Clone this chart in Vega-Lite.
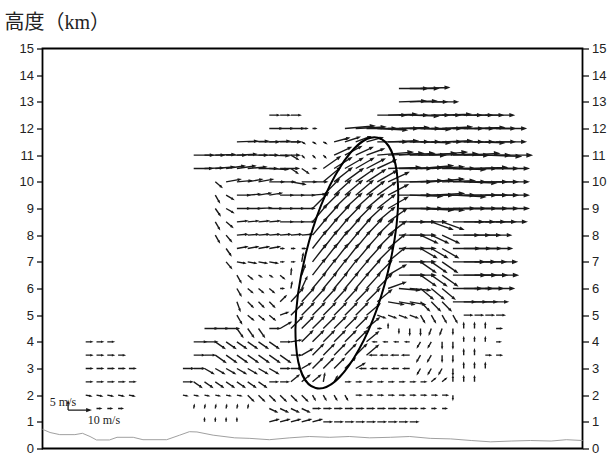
{
"$schema": "https://vega.github.io/schema/vega-lite/v6.json",
"width": 540, "height": 400,
"autosize": {"type": "none"},
"padding": {"left": 42.5, "top": 48.5, "right": 30.5, "bottom": 7.5},
"background": "white",
"title": {"text": "高度（km）", "anchor": "start", "frame": "group", "dx": -38, "offset": -10, "baseline": "bottom", "fontSize": 20, "fontWeight": "normal", "font": "Liberation Serif, Noto Sans CJK JP", "color": "#222"},
"config": {
  "view": {"stroke": "#000", "strokeWidth": 1.8},
  "axisY": {"tickSize": 6, "tickColor": "#000", "tickWidth": 1.2, "domain": false, "grid": false, "labelFont": "Liberation Sans", "labelFontSize": 13, "labelColor": "#222", "labelPadding": 3, "labelOverlap": false, "title": null}
},
"datasets": {
  "v": [
{"x":33,"z":13.5,"d":0,"s":12.7},{"x":34,"z":13.5,"d":0,"s":12.7},{"x":35,"z":13.5,"d":2,"s":12.7},
{"x":33,"z":13,"d":2,"s":11.8},{"x":34,"z":13,"d":2,"s":11.8},{"x":35,"z":13,"d":0,"s":11.8},{"x":36,"z":13,"d":0,"s":11.8},
{"x":21,"z":12.5,"d":0,"s":4.1},{"x":22,"z":12.5,"d":0,"s":4.1},{"x":23,"z":12.5,"d":0,"s":4.1},
{"x":31,"z":12.5,"d":0,"s":12.7},{"x":32,"z":12.5,"d":2,"s":12.7},{"x":33,"z":12.5,"d":0,"s":12.7},{"x":34,"z":12.5,"d":-2,"s":12.7},{"x":35,"z":12.5,"d":0,"s":12.7},{"x":36,"z":12.5,"d":0,"s":12.7},{"x":37,"z":12.5,"d":2,"s":12.7},{"x":38,"z":12.5,"d":0,"s":12.7},{"x":39,"z":12.5,"d":0,"s":12.7},{"x":40,"z":12.5,"d":0,"s":12.7},{"x":41,"z":12.5,"d":0,"s":12.7},
{"x":21,"z":12,"d":0,"s":5.5},{"x":22,"z":12,"d":0,"s":5.5},{"x":23,"z":12,"d":0,"s":5.5},{"x":24,"z":12,"d":0,"s":2.3},{"x":25,"z":12,"d":0,"s":1.4},
{"x":28,"z":12,"d":5,"s":13.2},{"x":29,"z":12,"d":3,"s":13.2},{"x":30,"z":12,"d":0,"s":13.2},{"x":31,"z":12,"d":-3,"s":13.2},{"x":32,"z":12,"d":0,"s":13.2},{"x":33,"z":12,"d":2,"s":13.2},{"x":34,"z":12,"d":0,"s":13.2},{"x":35,"z":12,"d":-2,"s":13.2},{"x":36,"z":12,"d":0,"s":13.2},{"x":37,"z":12,"d":3,"s":13.2},{"x":38,"z":12,"d":0,"s":13.2},{"x":39,"z":12,"d":0,"s":13.2},{"x":40,"z":12,"d":2,"s":13.2},{"x":41,"z":12,"d":0,"s":13.2},{"x":42,"z":12,"d":0,"s":13.2},
{"x":18,"z":11.5,"d":2,"s":9.1},{"x":19,"z":11.5,"d":2,"s":9.1},{"x":20,"z":11.5,"d":0,"s":9.1},{"x":21,"z":11.5,"d":2,"s":9.1},{"x":22,"z":11.5,"d":0,"s":9.1},{"x":23,"z":11.5,"d":0,"s":4.1},{"x":24,"z":11.5,"d":-30,"s":1.4},{"x":25,"z":11.5,"d":-30,"s":1.4},{"x":26,"z":11.5,"d":-30,"s":1.4},{"x":27,"z":11.5,"d":15,"s":6.8},{"x":28,"z":11.5,"d":18,"s":6.8},{"x":29,"z":11.5,"d":20,"s":6.8},{"x":30,"z":11.5,"d":15,"s":7.3},
{"x":31,"z":11.5,"d":0,"s":13.2},{"x":32,"z":11.5,"d":2,"s":13.2},{"x":33,"z":11.5,"d":0,"s":13.2},{"x":34,"z":11.5,"d":0,"s":13.2},{"x":35,"z":11.5,"d":-2,"s":13.2},{"x":36,"z":11.5,"d":0,"s":13.2},{"x":37,"z":11.5,"d":2,"s":13.2},{"x":38,"z":11.5,"d":0,"s":13.2},{"x":39,"z":11.5,"d":0,"s":13.2},{"x":40,"z":11.5,"d":-2,"s":13.2},{"x":41,"z":11.5,"d":0,"s":13.2},{"x":42,"z":11.5,"d":0,"s":13.2},
{"x":14,"z":11,"d":0,"s":8.6},{"x":15,"z":11,"d":0,"s":8.6},{"x":16,"z":11,"d":2,"s":8.6},{"x":17,"z":11,"d":0,"s":8.6},{"x":18,"z":11,"d":3,"s":8.6},{"x":19,"z":11,"d":0,"s":8.6},{"x":20,"z":11,"d":0,"s":8.6},{"x":21,"z":11,"d":-2,"s":8.6},{"x":22,"z":11,"d":0,"s":8.6},{"x":23,"z":11,"d":-30,"s":3.6},{"x":24,"z":11,"d":-45,"s":1.4},{"x":25,"z":11,"d":-45,"s":1.4},{"x":26,"z":11,"d":-45,"s":1.4},{"x":27,"z":11,"d":25,"s":8.2},{"x":28,"z":11,"d":28,"s":8.2},{"x":29,"z":11,"d":25,"s":8.2},{"x":30,"z":11,"d":20,"s":8.2},
{"x":31,"z":11,"d":5,"s":15.9},{"x":32,"z":11,"d":3,"s":15.9},{"x":33,"z":11,"d":3,"s":15.9},{"x":34,"z":11,"d":0,"s":15.9},{"x":35,"z":11,"d":3,"s":15.9},{"x":36,"z":11,"d":5,"s":15.9},{"x":37,"z":11,"d":2,"s":15.9},{"x":38,"z":11,"d":0,"s":15.9},{"x":39,"z":11,"d":3,"s":15.9},{"x":40,"z":11,"d":0,"s":15.9},{"x":41,"z":11,"d":-2,"s":15.9},{"x":42,"z":11,"d":0,"s":15.9},
{"x":14,"z":10.5,"d":0,"s":8.2},{"x":15,"z":10.5,"d":2,"s":8.2},{"x":16,"z":10.5,"d":5,"s":8.2},{"x":17,"z":10.5,"d":8,"s":8.2},{"x":18,"z":10.5,"d":8,"s":8.2},{"x":19,"z":10.5,"d":5,"s":8.2},{"x":20,"z":10.5,"d":0,"s":8.2},{"x":21,"z":10.5,"d":-3,"s":8.2},{"x":22,"z":10.5,"d":0,"s":8.2},{"x":23,"z":10.5,"d":-35,"s":3.6},{"x":24,"z":10.5,"d":-35,"s":3.6},{"x":25,"z":10.5,"d":0,"s":1.4},{"x":26,"z":10.5,"d":35,"s":9.1},{"x":27,"z":10.5,"d":32,"s":9.1},{"x":28,"z":10.5,"d":30,"s":9.1},{"x":29,"z":10.5,"d":30,"s":9.1},{"x":30,"z":10.5,"d":28,"s":9.1},{"x":31,"z":10.5,"d":25,"s":9.1},
{"x":32,"z":10.5,"d":2,"s":14.5},{"x":33,"z":10.5,"d":0,"s":14.5},{"x":34,"z":10.5,"d":2,"s":14.5},{"x":35,"z":10.5,"d":5,"s":14.5},{"x":36,"z":10.5,"d":3,"s":14.5},{"x":37,"z":10.5,"d":0,"s":14.5},{"x":38,"z":10.5,"d":-2,"s":14.5},{"x":39,"z":10.5,"d":0,"s":14.5},{"x":40,"z":10.5,"d":2,"s":14.5},{"x":41,"z":10.5,"d":0,"s":14.5},{"x":42,"z":10.5,"d":0,"s":14.5},
{"x":16,"z":10,"d":-40,"s":3.6},{"x":17,"z":10,"d":10,"s":6.4},{"x":18,"z":10,"d":5,"s":6.4},{"x":19,"z":10,"d":10,"s":6.4},{"x":20,"z":10,"d":10,"s":6.4},{"x":21,"z":10,"d":0,"s":6.4},{"x":22,"z":10,"d":0,"s":6.4},{"x":23,"z":10,"d":-10,"s":6.4},{"x":24,"z":10,"d":0,"s":6.4},{"x":25,"z":10,"d":0,"s":6.4},{"x":26,"z":10,"d":40,"s":10},{"x":27,"z":10,"d":38,"s":10},{"x":28,"z":10,"d":36,"s":10},{"x":29,"z":10,"d":35,"s":10},{"x":30,"z":10,"d":33,"s":10},{"x":31,"z":10,"d":30,"s":10},{"x":32,"z":10,"d":25,"s":10},
{"x":33,"z":10,"d":0,"s":14.5},{"x":34,"z":10,"d":2,"s":14.5},{"x":35,"z":10,"d":3,"s":14.5},{"x":36,"z":10,"d":5,"s":14.5},{"x":37,"z":10,"d":2,"s":14.5},{"x":38,"z":10,"d":0,"s":14.5},{"x":39,"z":10,"d":-2,"s":14.5},{"x":40,"z":10,"d":0,"s":14.5},{"x":41,"z":10,"d":0,"s":14.5},{"x":42,"z":10,"d":0,"s":14.5},
{"x":16,"z":9.5,"d":-60,"s":3.6},{"x":17,"z":9.5,"d":-30,"s":3.6},{"x":18,"z":9.5,"d":0,"s":5.5},{"x":19,"z":9.5,"d":5,"s":5.5},{"x":20,"z":9.5,"d":10,"s":5.5},{"x":21,"z":9.5,"d":10,"s":5.5},{"x":22,"z":9.5,"d":0,"s":5.5},{"x":23,"z":9.5,"d":0,"s":5.5},{"x":24,"z":9.5,"d":0,"s":5.5},{"x":25,"z":9.5,"d":5,"s":5.5},{"x":26,"z":9.5,"d":45,"s":10},{"x":27,"z":9.5,"d":42,"s":10},{"x":28,"z":9.5,"d":40,"s":10},{"x":29,"z":9.5,"d":40,"s":10},{"x":30,"z":9.5,"d":38,"s":10},{"x":31,"z":9.5,"d":35,"s":10},{"x":32,"z":9.5,"d":28,"s":10},
{"x":33,"z":9.5,"d":0,"s":14.5},{"x":34,"z":9.5,"d":-2,"s":14.5},{"x":35,"z":9.5,"d":0,"s":14.5},{"x":36,"z":9.5,"d":3,"s":14.5},{"x":37,"z":9.5,"d":0,"s":14.5},{"x":38,"z":9.5,"d":-3,"s":14.5},{"x":39,"z":9.5,"d":0,"s":14.5},{"x":40,"z":9.5,"d":0,"s":14.5},{"x":41,"z":9.5,"d":0,"s":14.5},{"x":42,"z":9.5,"d":0,"s":14.5},
{"x":16,"z":9,"d":-55,"s":3.6},{"x":17,"z":9,"d":-30,"s":3.6},{"x":18,"z":9,"d":0,"s":5.5},{"x":19,"z":9,"d":0,"s":5.5},{"x":20,"z":9,"d":3,"s":5.5},{"x":21,"z":9,"d":0,"s":5.5},{"x":22,"z":9,"d":0,"s":5.5},{"x":23,"z":9,"d":0,"s":5.5},{"x":24,"z":9,"d":0,"s":5.5},{"x":25,"z":9,"d":45,"s":10},{"x":26,"z":9,"d":45,"s":10},{"x":27,"z":9,"d":44,"s":10},{"x":28,"z":9,"d":42,"s":10},{"x":29,"z":9,"d":42,"s":10},{"x":30,"z":9,"d":40,"s":10},{"x":31,"z":9,"d":38,"s":10},{"x":32,"z":9,"d":30,"s":10},
{"x":33,"z":9,"d":0,"s":14.5},{"x":34,"z":9,"d":0,"s":14.5},{"x":35,"z":9,"d":-3,"s":14.5},{"x":36,"z":9,"d":-3,"s":14.5},{"x":37,"z":9,"d":0,"s":14.5},{"x":38,"z":9,"d":0,"s":14.5},{"x":39,"z":9,"d":0,"s":14.5},{"x":40,"z":9,"d":0,"s":14.5},{"x":41,"z":9,"d":0,"s":14.5},{"x":42,"z":9,"d":0,"s":14.5},
{"x":16,"z":8.5,"d":-60,"s":3.6},{"x":17,"z":8.5,"d":-40,"s":3.6},{"x":18,"z":8.5,"d":5,"s":4.5},{"x":19,"z":8.5,"d":5,"s":4.5},{"x":20,"z":8.5,"d":5,"s":4.5},{"x":21,"z":8.5,"d":5,"s":4.5},{"x":22,"z":8.5,"d":0,"s":5.5},{"x":23,"z":8.5,"d":0,"s":5.5},{"x":24,"z":8.5,"d":0,"s":5.5},{"x":25,"z":8.5,"d":50,"s":10},{"x":26,"z":8.5,"d":48,"s":10},{"x":27,"z":8.5,"d":47,"s":10},{"x":28,"z":8.5,"d":46,"s":10},{"x":29,"z":8.5,"d":45,"s":10},{"x":30,"z":8.5,"d":43,"s":10},{"x":31,"z":8.5,"d":40,"s":10},{"x":32,"z":8.5,"d":35,"s":10},
{"x":33,"z":8.5,"d":0,"s":11.4},{"x":34,"z":8.5,"d":0,"s":11.4},{"x":35,"z":8.5,"d":0,"s":11.4},{"x":36,"z":8.5,"d":-20,"s":10},{"x":37,"z":8.5,"d":-20,"s":10},{"x":38,"z":8.5,"d":0,"s":13.6},{"x":39,"z":8.5,"d":0,"s":13.6},{"x":40,"z":8.5,"d":0,"s":13.6},{"x":41,"z":8.5,"d":0,"s":13.6},{"x":42,"z":8.5,"d":0,"s":13.6},
{"x":16,"z":8,"d":-60,"s":3.6},{"x":17,"z":8,"d":-50,"s":3.6},{"x":18,"z":8,"d":5,"s":4.5},{"x":19,"z":8,"d":5,"s":4.5},{"x":20,"z":8,"d":5,"s":4.5},{"x":21,"z":8,"d":5,"s":4.5},{"x":22,"z":8,"d":5,"s":4.5},{"x":23,"z":8,"d":5,"s":4.5},{"x":24,"z":8,"d":5,"s":4.5},{"x":25,"z":8,"d":50,"s":10},{"x":26,"z":8,"d":50,"s":10},{"x":27,"z":8,"d":50,"s":10},{"x":28,"z":8,"d":48,"s":10},{"x":29,"z":8,"d":48,"s":10},{"x":30,"z":8,"d":46,"s":10},{"x":31,"z":8,"d":44,"s":10},{"x":32,"z":8,"d":38,"s":10},
{"x":33,"z":8,"d":0,"s":11.4},{"x":34,"z":8,"d":0,"s":11.4},{"x":35,"z":8,"d":-25,"s":8.2},{"x":36,"z":8,"d":-25,"s":8.2},{"x":37,"z":8,"d":-25,"s":8.2},{"x":38,"z":8,"d":0,"s":11.4},{"x":39,"z":8,"d":0,"s":11.4},{"x":40,"z":8,"d":0,"s":11.4},{"x":41,"z":8,"d":0,"s":11.4},
{"x":17,"z":7.5,"d":-55,"s":3.6},{"x":18,"z":7.5,"d":10,"s":4.5},{"x":19,"z":7.5,"d":10,"s":4.5},{"x":20,"z":7.5,"d":10,"s":4.5},{"x":21,"z":7.5,"d":10,"s":4.5},{"x":22,"z":7.5,"d":0,"s":1.4},{"x":23,"z":7.5,"d":0,"s":1.4},{"x":24,"z":7.5,"d":0,"s":1.4},{"x":25,"z":7.5,"d":52,"s":10},{"x":26,"z":7.5,"d":52,"s":10},{"x":27,"z":7.5,"d":52,"s":10},{"x":28,"z":7.5,"d":50,"s":10},{"x":29,"z":7.5,"d":50,"s":10},{"x":30,"z":7.5,"d":48,"s":10},{"x":31,"z":7.5,"d":45,"s":10},{"x":32,"z":7.5,"d":40,"s":10},
{"x":33,"z":7.5,"d":0,"s":11.4},{"x":34,"z":7.5,"d":0,"s":11.4},{"x":35,"z":7.5,"d":-30,"s":8.2},{"x":36,"z":7.5,"d":-30,"s":8.2},{"x":37,"z":7.5,"d":-30,"s":8.2},{"x":38,"z":7.5,"d":0,"s":11.8},{"x":39,"z":7.5,"d":0,"s":11.8},{"x":40,"z":7.5,"d":0,"s":11.8},{"x":41,"z":7.5,"d":0,"s":11.8},
{"x":17,"z":7,"d":-50,"s":3.6},{"x":18,"z":7,"d":-10,"s":3.6},{"x":19,"z":7,"d":-10,"s":3.6},{"x":20,"z":7,"d":-10,"s":3.6},{"x":21,"z":7,"d":-10,"s":3.6},{"x":22,"z":7,"d":0,"s":1.4},{"x":23,"z":7,"d":0,"s":1.4},{"x":24,"z":7,"d":80,"s":3.6},{"x":25,"z":7,"d":52,"s":10},{"x":26,"z":7,"d":52,"s":10},{"x":27,"z":7,"d":52,"s":10},{"x":28,"z":7,"d":52,"s":10},{"x":29,"z":7,"d":50,"s":10},{"x":30,"z":7,"d":48,"s":10},{"x":31,"z":7,"d":45,"s":10},{"x":32,"z":7,"d":40,"s":10},
{"x":33,"z":7,"d":0,"s":11.4},{"x":34,"z":7,"d":0,"s":11.4},{"x":35,"z":7,"d":-35,"s":8.2},{"x":36,"z":7,"d":-35,"s":8.2},{"x":37,"z":7,"d":-35,"s":8.2},{"x":38,"z":7,"d":0,"s":14.1},{"x":39,"z":7,"d":0,"s":14.1},{"x":40,"z":7,"d":0,"s":14.1},{"x":41,"z":7,"d":0,"s":14.1},
{"x":18,"z":6.5,"d":-60,"s":3.6},{"x":19,"z":6.5,"d":-40,"s":2.7},{"x":20,"z":6.5,"d":-30,"s":1.4},{"x":21,"z":6.5,"d":-30,"s":1.4},{"x":22,"z":6.5,"d":-40,"s":2.3},{"x":23,"z":6.5,"d":85,"s":2.7},{"x":24,"z":6.5,"d":70,"s":4.5},{"x":25,"z":6.5,"d":52,"s":9.1},{"x":26,"z":6.5,"d":52,"s":9.1},{"x":27,"z":6.5,"d":52,"s":9.1},{"x":28,"z":6.5,"d":52,"s":9.1},{"x":29,"z":6.5,"d":50,"s":9.1},{"x":30,"z":6.5,"d":48,"s":9.1},{"x":31,"z":6.5,"d":45,"s":9.1},{"x":32,"z":6.5,"d":30,"s":9.1},
{"x":33,"z":6.5,"d":0,"s":11.4},{"x":34,"z":6.5,"d":0,"s":11.4},{"x":35,"z":6.5,"d":-35,"s":8.2},{"x":36,"z":6.5,"d":-35,"s":8.2},{"x":37,"z":6.5,"d":-35,"s":8.2},{"x":38,"z":6.5,"d":0,"s":14.5},{"x":39,"z":6.5,"d":0,"s":14.5},{"x":40,"z":6.5,"d":0,"s":14.5},{"x":41,"z":6.5,"d":0,"s":14.5},
{"x":18,"z":6,"d":-60,"s":3.6},{"x":19,"z":6,"d":-40,"s":2.7},{"x":20,"z":6,"d":-40,"s":2.7},{"x":21,"z":6,"d":-40,"s":2.7},{"x":22,"z":6,"d":0,"s":1.4},{"x":23,"z":6,"d":80,"s":2.7},{"x":24,"z":6,"d":65,"s":5.5},{"x":25,"z":6,"d":50,"s":9.1},{"x":26,"z":6,"d":50,"s":9.1},{"x":27,"z":6,"d":50,"s":9.1},{"x":28,"z":6,"d":50,"s":9.1},{"x":29,"z":6,"d":50,"s":9.1},{"x":30,"z":6,"d":48,"s":9.1},{"x":31,"z":6,"d":45,"s":9.1},{"x":32,"z":6,"d":20,"s":8.2},
{"x":33,"z":6,"d":-5,"s":9.1},{"x":34,"z":6,"d":-5,"s":9.1},{"x":35,"z":6,"d":-40,"s":7.3},{"x":36,"z":6,"d":-40,"s":7.3},{"x":37,"z":6,"d":-40,"s":7.3},{"x":38,"z":6,"d":0,"s":12.7},{"x":39,"z":6,"d":0,"s":12.7},{"x":40,"z":6,"d":0,"s":12.7},{"x":41,"z":6,"d":0,"s":12.7},
{"x":18,"z":5.5,"d":-70,"s":4.1},{"x":19,"z":5.5,"d":-45,"s":3.2},{"x":20,"z":5.5,"d":-45,"s":3.2},{"x":21,"z":5.5,"d":-45,"s":3.2},{"x":22,"z":5.5,"d":45,"s":3.6},{"x":23,"z":5.5,"d":48,"s":8.2},{"x":24,"z":5.5,"d":48,"s":8.2},{"x":25,"z":5.5,"d":48,"s":8.2},{"x":26,"z":5.5,"d":48,"s":8.2},{"x":27,"z":5.5,"d":48,"s":8.2},{"x":28,"z":5.5,"d":48,"s":8.2},{"x":29,"z":5.5,"d":46,"s":8.2},{"x":30,"z":5.5,"d":45,"s":8.2},{"x":31,"z":5.5,"d":40,"s":8.2},
{"x":32,"z":5.5,"d":-10,"s":6.8},{"x":33,"z":5.5,"d":-10,"s":6.8},{"x":34,"z":5.5,"d":-10,"s":6.8},{"x":35,"z":5.5,"d":-45,"s":5.5},{"x":36,"z":5.5,"d":-45,"s":5.5},{"x":37,"z":5.5,"d":-45,"s":5.5},{"x":38,"z":5.5,"d":0,"s":10},{"x":39,"z":5.5,"d":0,"s":10},{"x":40,"z":5.5,"d":0,"s":10},{"x":41,"z":5.5,"d":0,"s":10},
{"x":18,"z":5,"d":-60,"s":4.1},{"x":19,"z":5,"d":-40,"s":3.2},{"x":20,"z":5,"d":-40,"s":3.2},{"x":21,"z":5,"d":-40,"s":3.2},{"x":22,"z":5,"d":20,"s":3.6},{"x":23,"z":5,"d":45,"s":7.7},{"x":24,"z":5,"d":45,"s":7.7},{"x":25,"z":5,"d":45,"s":7.7},{"x":26,"z":5,"d":45,"s":7.7},{"x":27,"z":5,"d":45,"s":7.7},{"x":28,"z":5,"d":45,"s":7.7},{"x":29,"z":5,"d":45,"s":7.7},{"x":30,"z":5,"d":40,"s":7.7},
{"x":31,"z":5,"d":-20,"s":3.6},{"x":32,"z":5,"d":-20,"s":3.6},{"x":33,"z":5,"d":-20,"s":3.6},{"x":34,"z":5,"d":-20,"s":3.6},{"x":35,"z":5,"d":-60,"s":3.6},{"x":36,"z":5,"d":-60,"s":3.6},{"x":37,"z":5,"d":-60,"s":3.6},{"x":38,"z":5,"d":-60,"s":3.6},{"x":39,"z":5,"d":0,"s":3.6},{"x":40,"z":5,"d":0,"s":3.6},{"x":41,"z":5,"d":0,"s":3.6},{"x":42,"z":5,"d":0,"s":3.6},
{"x":15,"z":4.5,"d":0,"s":5.5},{"x":16,"z":4.5,"d":0,"s":5.5},{"x":17,"z":4.5,"d":0,"s":5.5},{"x":18,"z":4.5,"d":-55,"s":4.5},{"x":19,"z":4.5,"d":-55,"s":4.5},{"x":20,"z":4.5,"d":-55,"s":4.5},{"x":21,"z":4.5,"d":0,"s":4.5},{"x":22,"z":4.5,"d":30,"s":5.5},{"x":23,"z":4.5,"d":45,"s":7.3},{"x":24,"z":4.5,"d":45,"s":7.3},{"x":25,"z":4.5,"d":45,"s":7.3},{"x":26,"z":4.5,"d":45,"s":7.3},{"x":27,"z":4.5,"d":45,"s":7.3},{"x":28,"z":4.5,"d":45,"s":7.3},{"x":29,"z":4.5,"d":45,"s":7.3},{"x":30,"z":4.5,"d":40,"s":7.3},
{"x":31,"z":4.5,"d":0,"s":1.4},{"x":32,"z":4.5,"d":90,"s":1.8},{"x":33,"z":4.5,"d":-90,"s":1.8},{"x":34,"z":4.5,"d":-90,"s":2.7},{"x":35,"z":4.5,"d":-90,"s":2.7},{"x":36,"z":4.5,"d":-110,"s":2.7},{"x":37,"z":4.5,"d":-110,"s":2.7},{"x":38,"z":4.5,"d":-90,"s":2.3},{"x":39,"z":4.5,"d":90,"s":2.3},{"x":40,"z":4.5,"d":90,"s":2.3},{"x":41,"z":4.5,"d":90,"s":2.3},{"x":42,"z":4.5,"d":0,"s":2.3},
{"x":14,"z":4,"d":0,"s":5.5},{"x":15,"z":4,"d":0,"s":5.5},{"x":16,"z":4,"d":-35,"s":5},{"x":17,"z":4,"d":-35,"s":5},{"x":18,"z":4,"d":-35,"s":5},{"x":19,"z":4,"d":-35,"s":5},{"x":20,"z":4,"d":-35,"s":5},{"x":21,"z":4,"d":-35,"s":5},{"x":22,"z":4,"d":0,"s":4.5},{"x":23,"z":4,"d":10,"s":4.5},{"x":24,"z":4,"d":45,"s":6.8},{"x":25,"z":4,"d":45,"s":6.8},{"x":26,"z":4,"d":45,"s":6.8},{"x":27,"z":4,"d":45,"s":6.8},{"x":28,"z":4,"d":45,"s":6.8},{"x":29,"z":4,"d":45,"s":6.8},{"x":30,"z":4,"d":40,"s":6.8},
{"x":31,"z":4,"d":180,"s":1.8},{"x":32,"z":4,"d":180,"s":1.8},{"x":33,"z":4,"d":180,"s":1.8},{"x":34,"z":4,"d":180,"s":1.8},{"x":35,"z":4,"d":-120,"s":2.7},{"x":36,"z":4,"d":-120,"s":2.7},{"x":37,"z":4,"d":-90,"s":2.7},{"x":38,"z":4,"d":-90,"s":2.7},{"x":39,"z":4,"d":90,"s":1.8},{"x":40,"z":4,"d":90,"s":1.8},{"x":41,"z":4,"d":90,"s":1.8},{"x":42,"z":4,"d":0,"s":1.8},
{"x":14,"z":3.5,"d":0,"s":4.5},{"x":15,"z":3.5,"d":0,"s":4.5},{"x":16,"z":3.5,"d":-35,"s":5.5},{"x":17,"z":3.5,"d":-35,"s":5.5},{"x":18,"z":3.5,"d":-35,"s":5.5},{"x":19,"z":3.5,"d":-35,"s":5.5},{"x":20,"z":3.5,"d":-35,"s":5.5},{"x":21,"z":3.5,"d":-35,"s":5.5},{"x":22,"z":3.5,"d":-35,"s":5.5},{"x":23,"z":3.5,"d":0,"s":4.5},{"x":24,"z":3.5,"d":30,"s":5.5},{"x":25,"z":3.5,"d":45,"s":6.8},{"x":26,"z":3.5,"d":45,"s":6.8},{"x":27,"z":3.5,"d":45,"s":6.8},{"x":28,"z":3.5,"d":45,"s":6.8},{"x":29,"z":3.5,"d":45,"s":6.8},{"x":30,"z":3.5,"d":40,"s":6.8},
{"x":31,"z":3.5,"d":180,"s":3.2},{"x":32,"z":3.5,"d":180,"s":3.2},{"x":33,"z":3.5,"d":180,"s":3.2},{"x":34,"z":3.5,"d":180,"s":3.2},{"x":35,"z":3.5,"d":-120,"s":3.2},{"x":36,"z":3.5,"d":-120,"s":3.2},{"x":37,"z":3.5,"d":-90,"s":2.7},{"x":38,"z":3.5,"d":-90,"s":2.7},{"x":39,"z":3.5,"d":90,"s":2.3},{"x":40,"z":3.5,"d":90,"s":2.3},{"x":41,"z":3.5,"d":0,"s":2.3},{"x":42,"z":3.5,"d":0,"s":2.3},
{"x":13,"z":3,"d":0,"s":4.5},{"x":14,"z":3,"d":0,"s":4.5},{"x":15,"z":3,"d":-30,"s":4.5},{"x":16,"z":3,"d":-30,"s":4.5},{"x":17,"z":3,"d":-30,"s":4.5},{"x":18,"z":3,"d":-30,"s":4.5},{"x":19,"z":3,"d":-30,"s":4.5},{"x":20,"z":3,"d":-30,"s":4.5},{"x":21,"z":3,"d":-30,"s":4.5},{"x":22,"z":3,"d":0,"s":4.1},{"x":23,"z":3,"d":0,"s":4.1},{"x":24,"z":3,"d":30,"s":4.5},{"x":25,"z":3,"d":45,"s":6.4},{"x":26,"z":3,"d":45,"s":6.4},{"x":27,"z":3,"d":45,"s":6.4},{"x":28,"z":3,"d":45,"s":6.4},{"x":29,"z":3,"d":30,"s":4.5},
{"x":30,"z":3,"d":180,"s":2.7},{"x":31,"z":3,"d":180,"s":2.7},{"x":32,"z":3,"d":180,"s":2.7},{"x":33,"z":3,"d":180,"s":2.7},{"x":34,"z":3,"d":180,"s":2.7},{"x":35,"z":3,"d":-120,"s":2.7},{"x":36,"z":3,"d":-120,"s":2.7},{"x":37,"z":3,"d":-120,"s":2.7},{"x":38,"z":3,"d":-90,"s":2.7},{"x":39,"z":3,"d":90,"s":2.3},{"x":40,"z":3,"d":90,"s":2.3},{"x":41,"z":3,"d":90,"s":2.3},
{"x":13,"z":2.5,"d":0,"s":4.1},{"x":14,"z":2.5,"d":-35,"s":4.1},{"x":15,"z":2.5,"d":-35,"s":4.1},{"x":16,"z":2.5,"d":-35,"s":4.1},{"x":17,"z":2.5,"d":-35,"s":4.1},{"x":18,"z":2.5,"d":-35,"s":4.1},{"x":19,"z":2.5,"d":-35,"s":4.1},{"x":20,"z":2.5,"d":-35,"s":4.1},{"x":21,"z":2.5,"d":0,"s":3.6},{"x":22,"z":2.5,"d":0,"s":3.6},{"x":23,"z":2.5,"d":40,"s":4.5},{"x":24,"z":2.5,"d":40,"s":4.5},{"x":25,"z":2.5,"d":40,"s":4.5},{"x":26,"z":2.5,"d":80,"s":3.6},{"x":27,"z":2.5,"d":60,"s":2.7},
{"x":28,"z":2.5,"d":0,"s":2.3},{"x":29,"z":2.5,"d":0,"s":2.3},{"x":30,"z":2.5,"d":0,"s":2.3},{"x":31,"z":2.5,"d":0,"s":2.3},{"x":32,"z":2.5,"d":0,"s":2.3},{"x":33,"z":2.5,"d":0,"s":2.3},{"x":34,"z":2.5,"d":0,"s":2.3},{"x":35,"z":2.5,"d":0,"s":2.3},{"x":36,"z":2.5,"d":40,"s":2.3},{"x":37,"z":2.5,"d":40,"s":2.3},{"x":38,"z":2.5,"d":90,"s":2.3},{"x":39,"z":2.5,"d":90,"s":2.3},{"x":40,"z":2.5,"d":90,"s":2.3},
{"x":13,"z":2,"d":-10,"s":1.8},{"x":14,"z":2,"d":-10,"s":1.8},{"x":15,"z":2,"d":-10,"s":1.8},{"x":16,"z":2,"d":-10,"s":1.8},{"x":17,"z":2,"d":-10,"s":1.8},{"x":18,"z":2,"d":-10,"s":1.8},{"x":19,"z":2,"d":-45,"s":3.6},{"x":20,"z":2,"d":-45,"s":3.6},{"x":21,"z":2,"d":-45,"s":3.6},{"x":22,"z":2,"d":-45,"s":3.6},{"x":23,"z":2,"d":-45,"s":3.6},{"x":24,"z":2,"d":-45,"s":3.6},{"x":25,"z":2,"d":-60,"s":2.3},{"x":26,"z":2,"d":-60,"s":2.3},{"x":27,"z":2,"d":-60,"s":2.3},{"x":28,"z":2,"d":-60,"s":2.3},
{"x":29,"z":2,"d":0,"s":2.3},{"x":30,"z":2,"d":0,"s":2.3},{"x":31,"z":2,"d":0,"s":2.3},{"x":32,"z":2,"d":0,"s":2.3},{"x":33,"z":2,"d":0,"s":2.3},{"x":34,"z":2,"d":0,"s":2.3},{"x":35,"z":2,"d":0,"s":2.3},{"x":36,"z":2,"d":0,"s":2.3},{"x":37,"z":2,"d":0,"s":2.3},{"x":38,"z":2,"d":-90,"s":1.8},
{"x":14,"z":1.5,"d":80,"s":1.4},{"x":15,"z":1.5,"d":80,"s":1.4},{"x":16,"z":1.5,"d":80,"s":1.4},{"x":17,"z":1.5,"d":80,"s":1.4},{"x":18,"z":1.5,"d":80,"s":1.4},{"x":19,"z":1.5,"d":80,"s":1.4},{"x":21,"z":1.5,"d":-25,"s":3.6},{"x":22,"z":1.5,"d":-25,"s":3.6},{"x":23,"z":1.5,"d":-25,"s":3.6},{"x":24,"z":1.5,"d":-25,"s":3.6},{"x":25,"z":1.5,"d":0,"s":3.2},{"x":26,"z":1.5,"d":0,"s":3.2},{"x":27,"z":1.5,"d":0,"s":3.2},{"x":28,"z":1.5,"d":0,"s":3.2},{"x":29,"z":1.5,"d":0,"s":3.2},{"x":30,"z":1.5,"d":0,"s":3.2},{"x":31,"z":1.5,"d":0,"s":3.2},{"x":32,"z":1.5,"d":0,"s":3.2},{"x":33,"z":1.5,"d":0,"s":3.2},{"x":34,"z":1.5,"d":0,"s":3.2},{"x":35,"z":1.5,"d":0,"s":1.8},{"x":36,"z":1.5,"d":0,"s":1.8},{"x":37,"z":1.5,"d":0,"s":1.8},
{"x":15,"z":1,"d":90,"s":1.4},{"x":16,"z":1,"d":90,"s":1.4},{"x":17,"z":1,"d":90,"s":1.4},{"x":18,"z":1,"d":90,"s":1.4},{"x":21,"z":1,"d":15,"s":4.1},{"x":22,"z":1,"d":15,"s":4.1},{"x":23,"z":1,"d":15,"s":4.1},{"x":24,"z":1,"d":15,"s":4.1},{"x":25,"z":1,"d":15,"s":4.1},{"x":26,"z":1,"d":0,"s":3.6},{"x":27,"z":1,"d":0,"s":3.6},{"x":28,"z":1,"d":0,"s":3.6},{"x":29,"z":1,"d":0,"s":3.6},{"x":30,"z":1,"d":0,"s":3.6},{"x":31,"z":1,"d":0,"s":3.6},{"x":32,"z":1,"d":0,"s":3.6},{"x":33,"z":1,"d":0,"s":3.6},{"x":34,"z":1,"d":0,"s":3.6},
{"x":4,"z":4,"d":0,"s":2.7},{"x":5,"z":4,"d":0,"s":2.7},{"x":6,"z":4,"d":0,"s":2.7},
{"x":4,"z":3.5,"d":0,"s":2.7},{"x":5,"z":3.5,"d":0,"s":2.7},{"x":6,"z":3.5,"d":0,"s":2.7},{"x":7,"z":3.5,"d":0,"s":2.7},
{"x":4,"z":3,"d":0,"s":2.7},{"x":5,"z":3,"d":0,"s":2.7},{"x":6,"z":3,"d":0,"s":2.7},{"x":7,"z":3,"d":0,"s":2.7},{"x":8,"z":3,"d":0,"s":2.7},
{"x":4,"z":2.5,"d":0,"s":2.7},{"x":5,"z":2.5,"d":0,"s":2.7},{"x":6,"z":2.5,"d":0,"s":2.7},{"x":7,"z":2.5,"d":0,"s":2.7},{"x":8,"z":2.5,"d":0,"s":2.7},
{"x":4,"z":2,"d":-10,"s":2.3},{"x":5,"z":2,"d":-10,"s":2.3},{"x":6,"z":2,"d":-10,"s":2.3},{"x":7,"z":2,"d":-10,"s":2.3},{"x":8,"z":2,"d":-10,"s":2.3},
{"x":5,"z":1.5,"d":0,"s":1.8},{"x":6,"z":1.5,"d":0,"s":1.8},{"x":7,"z":1.5,"d":0,"s":1.8}
  ],
  "g": [
{"x":0,"z":0.72},{"x":0.7,"z":0.6},{"x":1.6,"z":0.52},{"x":3,"z":0.52},{"x":3.7,"z":0.57},{"x":4.4,"z":0.45},{"x":5,"z":0.32},{"x":6.2,"z":0.32},{"x":6.9,"z":0.42},{"x":8.4,"z":0.42},{"x":9.3,"z":0.33},{"x":11.5,"z":0.33},{"x":12.7,"z":0.5},{"x":13.6,"z":0.63},{"x":14.3,"z":0.62},{"x":15.8,"z":0.5},{"x":17.8,"z":0.4},{"x":19.2,"z":0.38},{"x":21,"z":0.33},{"x":22.9,"z":0.4},{"x":24.7,"z":0.45},{"x":26.6,"z":0.42},{"x":28.4,"z":0.45},{"x":30.3,"z":0.4},{"x":32.2,"z":0.42},{"x":34,"z":0.45},{"x":35.9,"z":0.38},{"x":37.8,"z":0.36},{"x":39.7,"z":0.3},{"x":41.5,"z":0.25},{"x":43.4,"z":0.28},{"x":45.2,"z":0.3},{"x":47.1,"z":0.28},{"x":48.5,"z":0.33},{"x":50,"z":0.3}
  ],
  "lg": [{"x":2.37,"z":1.44,"d":0,"s":10},{"x":2.37,"z":1.44,"d":90,"s":3.8}],
  "lt": [{"x":0.68,"z":1.75,"t":"5 m/s"},{"x":4.19,"z":1.07,"t":"10 m/s"}],
  "el": [{"x":28.18,"z":6.96}]
},
"layer": [
  {"data": {"name": "g"},
   "mark": {"type": "line", "color": "#a0a0a0", "strokeWidth": 1, "interpolate": "linear"},
   "encoding": {
     "x": {"field": "x", "type": "quantitative", "scale": {"domain": [0, 50], "nice": false, "zero": false}, "axis": null},
     "y": {"field": "z", "type": "quantitative", "scale": {"domain": [0, 15], "nice": false, "zero": false}, "axis": {"orient": "left", "values": [0,1,2,3,4,5,6,7,8,9,10,11,12,13,14,15]}}
   }},
  {"data": {"name": "v"},
   "mark": {"type": "point", "shape": "M0,0L2,0M2,0L1.77,-0.085L1.77,0.085Z", "filled": true, "fill": "#1a1a1a", "stroke": "#1a1a1a", "strokeWidth": 1.4, "opacity": 1},
   "encoding": {
     "x": {"field": "x", "type": "quantitative", "axis": null},
     "y": {"field": "z", "type": "quantitative", "axis": {"orient": "right", "values": [0,1,2,3,4,5,6,7,8,9,10,11,12,13,14,15]}},
     "angle": {"field": "d", "type": "quantitative", "scale": {"domain": [0, 360], "range": [360, 0], "nice": false, "zero": false}, "legend": null},
     "size": {"field": "s", "type": "quantitative", "scale": {"type": "pow", "exponent": 2, "domain": [0, 10], "range": [0, 484], "nice": false}, "legend": null}
   }},
  {"data": {"name": "lg"},
   "mark": {"type": "point", "shape": "M0,0L2,0M2,0L1.7,-0.11L1.7,0.11Z", "filled": true, "fill": "#1a1a1a", "stroke": "#1a1a1a", "strokeWidth": 1.3, "opacity": 1},
   "encoding": {
     "x": {"field": "x", "type": "quantitative", "axis": null},
     "y": {"field": "z", "type": "quantitative", "axis": null},
     "angle": {"field": "d", "type": "quantitative", "legend": null},
     "size": {"field": "s", "type": "quantitative", "legend": null}
   }},
  {"data": {"name": "lt"},
   "mark": {"type": "text", "align": "left", "baseline": "middle", "font": "Liberation Serif", "fontSize": 12, "color": "#222"},
   "encoding": {
     "x": {"field": "x", "type": "quantitative", "axis": null},
     "y": {"field": "z", "type": "quantitative", "axis": null},
     "text": {"field": "t"}
   }},
  {"data": {"name": "el"},
   "mark": {"type": "point", "shape": "M0,-1C0.18,-1 0.326,-0.552 0.326,0C0.326,0.552 0.18,1 0,1C-0.18,1 -0.326,0.552 -0.326,0C-0.326,-0.552 -0.18,-1 0,-1Z", "filled": false, "stroke": "#000", "strokeWidth": 2, "size": 66564, "angle": 14, "opacity": 1},
   "encoding": {
     "x": {"field": "x", "type": "quantitative", "axis": null},
     "y": {"field": "z", "type": "quantitative", "axis": null}
   }}
],
"resolve": {"axis": {"y": "independent"}}
}
